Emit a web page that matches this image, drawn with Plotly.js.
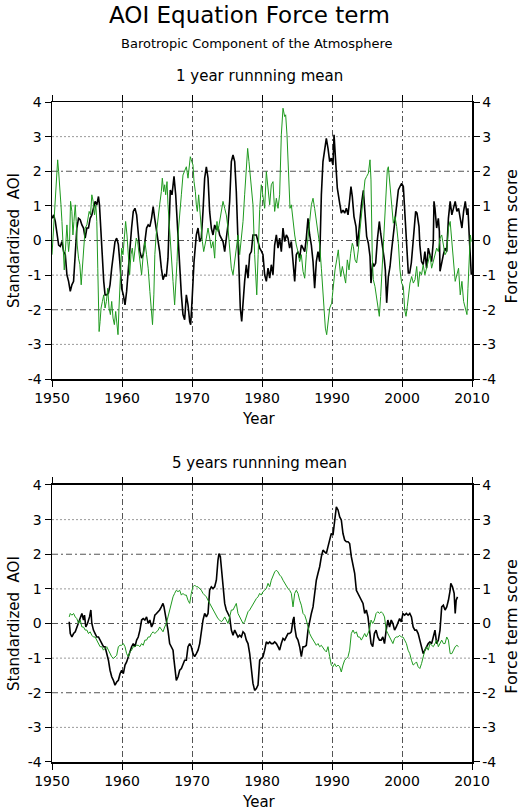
<!DOCTYPE html>
<html>
<head>
<meta charset="utf-8">
<script src="https://cdn.plot.ly/plotly-3.0.1.min.js"></script>
<style>
  html, body { margin: 0; padding: 0; background: #fff; }
  #chart { width: 529px; height: 810px; }
</style>
</head>
<body>
<div id="chart"></div>
<script>
// Axis ticks
const yearTicks = [1950, 1960, 1970, 1980, 1990, 2000, 2010];
const scoreTicks = [-4, -3, -2, -1, 0, 1, 2, 3, 4];
const scoreTickText = ['-4', '-3', '-2', '-1', '0', '1', '2', '3', '4'];

// 1 year running mean: standardized AOI (black)
const aoi1Years = [
  1950.00, 1950.24, 1950.47, 1950.71, 1950.95, 1951.18, 1951.42, 1951.66, 1951.90, 1952.13,
  1952.37, 1952.61, 1952.84, 1953.08, 1953.32, 1953.55, 1953.79, 1954.03, 1954.27, 1954.50,
  1954.74, 1954.98, 1955.21, 1955.45, 1955.69, 1955.92, 1956.16, 1956.40, 1956.64, 1956.78,
  1957.01, 1957.20, 1957.39, 1957.58, 1957.82, 1958.06, 1958.29, 1958.53, 1958.77, 1959.00,
  1959.24, 1959.48, 1959.72, 1959.95, 1960.19, 1960.43, 1960.66, 1960.90, 1961.14, 1961.37,
  1961.61, 1961.85, 1962.09, 1962.32, 1962.56, 1962.80, 1963.03, 1963.27, 1963.51, 1963.74,
  1963.98, 1964.22, 1964.45, 1964.67, 1964.90, 1965.14, 1965.38, 1965.62, 1965.86, 1966.10,
  1966.33, 1966.57, 1966.81, 1966.90, 1967.14, 1967.43, 1967.67, 1967.86, 1968.05, 1968.24,
  1968.48, 1968.71, 1968.95, 1969.19, 1969.43, 1969.67, 1969.81, 1970.00, 1970.29, 1970.62,
  1970.86, 1971.10, 1971.33, 1971.57, 1971.81, 1972.05, 1972.29, 1972.52, 1972.76, 1973.00,
  1973.24, 1973.48, 1973.71, 1973.95, 1974.19, 1974.43, 1974.67, 1974.90, 1975.14, 1975.38,
  1975.62, 1975.86, 1976.10, 1976.33, 1976.57, 1976.71, 1976.90, 1977.10, 1977.29, 1977.52,
  1977.76, 1978.00, 1978.24, 1978.48, 1978.71, 1978.95, 1979.19, 1979.43, 1979.67, 1979.90,
  1980.14, 1980.38, 1980.62, 1980.86, 1981.10, 1981.33, 1981.57, 1981.81, 1982.05, 1982.29,
  1982.52, 1982.76, 1983.00, 1983.24, 1983.48, 1983.71, 1983.95, 1984.19, 1984.43, 1984.67,
  1984.90, 1985.14, 1985.38, 1985.62, 1985.86, 1986.10, 1986.33, 1986.57, 1986.81, 1987.05,
  1987.29, 1987.52, 1987.76, 1988.00, 1988.24, 1988.48, 1988.71, 1988.95, 1989.19, 1989.43,
  1989.67, 1989.90, 1990.14, 1990.29, 1990.48, 1990.76, 1991.10, 1991.33, 1991.57, 1991.81,
  1992.05, 1992.29, 1992.52, 1992.71, 1992.90, 1993.14, 1993.43, 1993.62, 1993.81, 1994.00,
  1994.24, 1994.48, 1994.71, 1994.95, 1995.19, 1995.43, 1995.57, 1995.81, 1996.00, 1996.24,
  1996.48, 1996.76, 1996.95, 1997.19, 1997.33, 1997.48, 1997.62, 1997.81, 1998.05, 1998.29,
  1998.52, 1998.76, 1999.00, 1999.24, 1999.48, 1999.71, 1999.95, 2000.19, 2000.33, 2000.52,
  2000.71, 2000.90, 2001.10, 2001.33, 2001.57, 2001.81, 2001.95, 2002.14, 2002.43, 2002.55,
  2002.79, 2003.03, 2003.27, 2003.51, 2003.75, 2003.99, 2004.23, 2004.47, 2004.57, 2004.71,
  2004.95, 2005.19, 2005.34, 2005.43, 2005.67, 2005.91, 2006.15, 2006.39, 2006.63, 2006.88,
  2007.12, 2007.36, 2007.60, 2007.84, 2008.08, 2008.32, 2008.56, 2008.80, 2009.04, 2009.28,
  2009.42, 2009.62, 2009.76, 2009.90
];
const aoi1Values = [
  0.64, 0.74, 0.55, 0.16, -0.13, -0.17, -0.03, -0.32, -0.41, -0.99,
  -1.18, -1.47, -1.28, -1.18, -0.51, 0.36, 0.64, 0.60, 0.45, 0.36,
  0.07, 0.36, 0.36, 0.64, 0.74, 0.93, 1.13, 1.03, 1.27, 1.03,
  0.16, -0.61, -1.18, -1.57, -1.57, -1.52, -1.28, -0.80, -0.32, -0.03,
  0.07, -0.12, -0.70, -1.38, -1.57, -1.86, -1.47, -0.80, -0.22, 0.36,
  0.84, 0.93, 0.74, 0.16, -0.32, -0.51, -0.41, -0.03, 0.36, 0.45,
  0.40, 0.64, 0.98, 0.64, 0.36, 0.07, -0.32, -0.80, -1.13, -0.99,
  -1.04, -0.51, 1.32, 1.46, 1.32, 1.85, 1.32, 0.55, -0.22, -0.89,
  -1.57, -2.14, -2.29, -1.57, -1.86, -2.34, -2.43, -1.76, -0.61, 0.16,
  0.36, -0.03, 0.07, 0.84, 1.80, 2.13, 1.80, 0.84, 0.36, 0.16,
  0.45, 0.31, 0.40, 0.16, 0.07, -0.03, -0.32, 0.07, 0.45, 1.13,
  2.28, 2.47, 2.28, 1.41, 0.16, -0.80, -1.95, -2.34, -1.76, -1.18,
  -0.70, -1.09, -0.41, -0.32, 0.16, 0.16, 0.16, -0.03, -0.22, -0.30,
  -0.41, -0.99, -1.18, -0.80, -1.09, -0.70, -0.99, -0.13, 0.16, -0.22,
  0.07, -0.32, 0.36, -0.03, 0.16, 0.07, -0.22, -0.03, -0.61, -1.18,
  -0.41, -0.32, -0.51, -0.13, -0.22, -0.32, 0.07, 0.64, 0.16, -0.13,
  -0.61, -1.38, -0.61, -0.32, -0.61, 1.32, 2.28, 2.57, 2.95, 2.66,
  2.28, 2.38, 2.18, 3.05, 2.28, 1.51, 1.07, 0.79, 0.88, 0.79,
  0.93, 0.74, 1.17, 1.56, 1.27, 0.69, 0.40, -0.17, 0.21, 0.69,
  1.10, 1.45, 0.90, 0.12, -0.08, -0.46, -1.23, -0.65, -0.75, -0.65,
  0.02, 0.55, 0.21, -0.08, -0.27, -0.56, -0.85, -1.80, -1.04, -0.75,
  -0.27, 0.21, 0.69, 1.08, 1.46, 1.56, 1.65, 1.56, 0.98, 0.21,
  -0.56, -0.94, -0.94, -0.65, -0.08, 0.69, 0.84, 0.79, 0.40, -0.13,
  -0.61, -0.70, -0.32, -0.80, -0.22, -0.41, -0.61, -0.03, 1.13, 0.93,
  0.36, 0.64, 0.26, -0.89, -0.61, -0.41, -0.22, -0.32, 0.64, 1.13,
  0.74, 0.93, 1.13, 0.84, 0.93, 0.64, 0.36, 0.84, 1.13, 0.74,
  0.93, 0.07, -0.61, -0.99
];

// 1 year running mean: force term score (green)
const force1Years = [
  1950.00, 1950.24, 1950.47, 1950.71, 1950.81, 1950.95, 1951.04, 1951.18, 1951.28, 1951.42,
  1951.56, 1951.66, 1951.75, 1951.90, 1952.04, 1952.13, 1952.27, 1952.37, 1952.51, 1952.65,
  1952.84, 1952.99, 1953.13, 1953.32, 1953.46, 1953.60, 1953.79, 1953.98, 1954.17, 1954.36,
  1954.55, 1954.74, 1954.98, 1955.12, 1955.31, 1955.50, 1955.69, 1955.88, 1956.07, 1956.26,
  1956.40, 1956.54, 1956.64, 1956.73, 1956.87, 1957.01, 1957.20, 1957.39, 1957.58, 1957.77,
  1957.96, 1958.15, 1958.34, 1958.53, 1958.72, 1958.91, 1959.10, 1959.29, 1959.43, 1959.57,
  1959.76, 1959.95, 1960.14, 1960.33, 1960.52, 1960.71, 1960.90, 1961.09, 1961.28, 1961.47,
  1961.66, 1961.85, 1962.04, 1962.23, 1962.42, 1962.61, 1962.80, 1963.03, 1963.27, 1963.51,
  1963.74, 1963.98, 1964.22, 1964.36, 1964.55, 1964.69, 1964.88, 1965.07, 1965.38, 1965.62,
  1965.76, 1965.95, 1966.10, 1966.24, 1966.43, 1966.57, 1966.71, 1966.90, 1967.05, 1967.29,
  1967.52, 1967.67, 1967.86, 1968.00, 1968.24, 1968.48, 1968.71, 1968.95, 1969.19, 1969.43,
  1969.57, 1969.76, 1969.90, 1970.14, 1970.29, 1970.48, 1970.62, 1970.76, 1970.95, 1971.10,
  1971.33, 1971.48, 1971.67, 1971.81, 1972.05, 1972.29, 1972.52, 1972.76, 1973.00, 1973.24,
  1973.38, 1973.57, 1973.71, 1973.95, 1974.19, 1974.43, 1974.67, 1974.90, 1975.14, 1975.38,
  1975.62, 1975.86, 1976.10, 1976.33, 1976.57, 1976.81, 1977.05, 1977.29, 1977.52, 1977.76,
  1977.95, 1978.14, 1978.33, 1978.52, 1978.71, 1978.95, 1979.10, 1979.25, 1979.45, 1979.67,
  1979.90, 1980.14, 1980.38, 1980.62, 1980.86, 1981.10, 1981.33, 1981.57, 1981.81, 1982.05,
  1982.29, 1982.52, 1982.76, 1983.00, 1983.24, 1983.38, 1983.57, 1983.71, 1983.86, 1984.00,
  1984.19, 1984.43, 1984.67, 1984.90, 1985.14, 1985.38, 1985.62, 1985.86, 1986.10, 1986.33,
  1986.57, 1986.81, 1987.05, 1987.29, 1987.52, 1987.76, 1988.00, 1988.24, 1988.48, 1988.71,
  1988.86, 1989.05, 1989.24, 1989.43, 1989.67, 1989.95, 1990.19, 1990.43, 1990.67, 1990.90,
  1991.05, 1991.24, 1991.48, 1991.71, 1991.95, 1992.19, 1992.43, 1992.67, 1992.90, 1993.05,
  1993.29, 1993.52, 1993.76, 1994.00, 1994.24, 1994.48, 1994.71, 1994.95, 1995.19, 1995.43,
  1995.57, 1995.76, 1995.90, 1996.14, 1996.38, 1996.62, 1996.76, 1996.95, 1997.19, 1997.43,
  1997.67, 1997.90, 1998.05, 1998.29, 1998.52, 1998.76, 1999.00, 1999.24, 1999.48, 1999.71,
  1999.95, 2000.19, 2000.38, 2000.57, 2000.76, 2000.95, 2001.14, 2001.38, 2001.62, 2001.86,
  2002.10, 2002.33, 2002.55, 2002.79, 2003.03, 2003.27, 2003.51, 2003.75, 2003.99, 2004.23,
  2004.47, 2004.71, 2004.95, 2005.19, 2005.43, 2005.67, 2005.91, 2006.15, 2006.39, 2006.63,
  2006.88, 2007.12, 2007.36, 2007.60, 2007.84, 2008.08, 2008.32, 2008.56, 2008.80, 2009.04,
  2009.28, 2009.42, 2009.62, 2009.76, 2009.90
];
const force1Values = [
  -0.41, 0.36, 1.03, 1.70, 2.33, 1.99, 1.61, 1.41, 1.03, 0.55,
  0.07, -0.51, -0.85, -0.32, 0.26, 0.45, -0.03, -0.32, -0.03, 1.13,
  0.84, 0.16, 0.55, 1.03, 0.55, -0.13, -0.51, -0.70, -1.28, -0.70,
  -0.03, 0.36, 0.45, 0.64, 0.84, 0.74, 1.32, 1.13, 0.74, 1.03,
  0.55, -0.80, -1.76, -2.63, -2.34, -1.95, -1.76, -1.57, -1.95, -1.76,
  -1.38, -1.95, -2.14, -1.76, -2.24, -2.43, -2.05, -2.53, -2.72, -1.95,
  -0.99, -0.22, -0.41, 0.07, 0.55, 0.16, -0.51, -0.99, -0.41, -0.22,
  -0.61, -0.32, 0.07, -0.03, -0.41, -0.80, -0.99, -0.41, -0.03, -0.41,
  -0.80, -1.47, -2.24, -2.43, -1.57, -0.41, 0.16, 0.55, 1.03, 1.41,
  1.80, 1.41, 1.61, 1.32, 1.70, 1.03, 0.55, -0.13, -0.61, -1.18,
  -1.86, -1.38, -0.61, 0.16, 0.64, 1.32, 1.89, 1.99, 2.13, 1.80,
  2.09, 2.42, 2.33, 2.18, 1.70, 1.41, 1.03, 0.84, 1.32, 0.93,
  0.26, -0.03, -0.32, -0.13, 0.07, 0.36, 0.07, -0.22, -0.03, -0.51,
  0.16, 0.55, 0.26, 0.55, 0.74, 1.13, 0.93, 0.74, 0.36, -0.13,
  -0.80, -0.99, -0.61, -0.22, 0.16, -0.41, 0.07, 0.55, 1.32, 2.28,
  2.66, 2.28, 1.89, 1.32, 1.03, -0.41, -0.99, -1.57, -0.40, 0.90,
  1.61, 1.32, 0.93, 1.99, 1.41, 1.03, 1.61, 1.70, 0.84, 1.22,
  0.93, 1.32, 3.05, 3.82, 3.58, 3.63, 3.05, 2.28, 1.32, 0.93,
  1.03, 0.55, 0.16, -0.13, -0.32, -0.61, -0.41, -0.89, -1.09, -0.41,
  0.16, 0.55, 1.03, 1.22, 0.93, 0.55, 0.16, -0.13, -0.80, -1.57,
  -2.05, -2.53, -2.72, -2.34, -1.95, -1.81, -1.23, -0.85, -0.56, -0.27,
  -0.65, -1.04, -0.75, -1.04, -1.23, -0.56, -0.85, -0.37, -0.08, -0.17,
  -0.56, -0.65, -0.27, 0.31, 0.88, 1.37, 1.75, 1.85, 1.94, 2.33,
  1.75, -0.56, -1.13, -1.33, -1.62, -1.90, -2.19, -1.62, -0.75, 0.21,
  1.17, 2.04, 2.13, 1.65, 1.17, 0.50, 0.69, 0.40, -0.08, -0.85,
  -1.23, -1.33, -2.00, -2.19, -1.90, -1.52, -1.23, -1.04, -1.23, -1.13,
  -0.75, -1.33, -0.90, -0.99, -0.70, -0.99, -0.80, -0.61, -0.41, -0.80,
  -0.61, -0.41, -0.22, -0.32, 0.07, 0.16, -0.13, -0.41, -0.32, 0.36,
  0.55, -0.03, -0.61, -1.18, -0.99, -0.80, -1.57, -1.18, -1.76, -1.95,
  -2.14, -1.38, -0.41, 0.16, -0.03
];

// 5 years running mean: standardized AOI (black)
const aoi5Years = [
  1952.46, 1952.61, 1952.84, 1953.08, 1953.32, 1953.55, 1953.79, 1954.03, 1954.27, 1954.50,
  1954.64, 1954.83, 1955.07, 1955.36, 1955.55, 1955.69, 1955.92, 1956.16, 1956.40, 1956.64,
  1956.87, 1957.11, 1957.35, 1957.58, 1957.82, 1958.06, 1958.29, 1958.53, 1958.77, 1959.00,
  1959.24, 1959.48, 1959.72, 1959.95, 1960.19, 1960.43, 1960.66, 1960.90, 1961.14, 1961.37,
  1961.61, 1961.85, 1962.09, 1962.32, 1962.56, 1962.80, 1963.03, 1963.27, 1963.51, 1963.74,
  1963.98, 1964.22, 1964.45, 1964.69, 1964.93, 1965.17, 1965.38, 1965.62, 1965.86, 1966.00,
  1966.19, 1966.33, 1966.57, 1966.81, 1967.05, 1967.29, 1967.43, 1967.62, 1967.76, 1968.00,
  1968.24, 1968.48, 1968.71, 1968.95, 1969.19, 1969.43, 1969.67, 1969.90, 1970.14, 1970.38,
  1970.62, 1970.86, 1971.10, 1971.33, 1971.57, 1971.81, 1972.05, 1972.29, 1972.52, 1972.76,
  1973.00, 1973.24, 1973.48, 1973.71, 1973.86, 1974.05, 1974.19, 1974.43, 1974.67, 1974.90,
  1975.14, 1975.38, 1975.62, 1975.86, 1976.10, 1976.33, 1976.57, 1976.81, 1977.05, 1977.29,
  1977.52, 1977.76, 1978.00, 1978.24, 1978.48, 1978.71, 1978.95, 1979.19, 1979.43, 1979.67,
  1979.90, 1980.14, 1980.38, 1980.62, 1980.86, 1981.10, 1981.33, 1981.57, 1981.81, 1982.05,
  1982.29, 1982.52, 1982.76, 1983.00, 1983.24, 1983.48, 1983.71, 1983.95, 1984.19, 1984.43,
  1984.57, 1984.67, 1984.90, 1985.14, 1985.38, 1985.62, 1985.86, 1986.10, 1986.33, 1986.57,
  1986.81, 1987.05, 1987.29, 1987.52, 1987.76, 1988.00, 1988.24, 1988.48, 1988.71, 1988.95,
  1989.19, 1989.43, 1989.67, 1989.90, 1990.14, 1990.38, 1990.62, 1990.86, 1991.10, 1991.33,
  1991.57, 1991.81, 1992.05, 1992.29, 1992.52, 1992.76, 1993.00, 1993.24, 1993.48, 1993.71,
  1993.95, 1994.19, 1994.43, 1994.67, 1994.90, 1995.14, 1995.34, 1995.58, 1995.82, 1996.06,
  1996.30, 1996.54, 1996.78, 1997.02, 1997.26, 1997.50, 1997.74, 1997.98, 1998.22, 1998.46,
  1998.70, 1998.94, 1999.18, 1999.42, 1999.66, 1999.90, 2000.14, 2000.38, 2000.63, 2000.87,
  2001.11, 2001.35, 2001.59, 2001.83, 2002.07, 2002.31, 2002.55, 2002.79, 2003.03, 2003.27,
  2003.51, 2003.75, 2003.99, 2004.23, 2004.47, 2004.71, 2004.95, 2005.19, 2005.43, 2005.67,
  2005.91, 2006.15, 2006.39, 2006.63, 2006.88, 2006.97, 2007.21, 2007.45, 2007.60, 2007.74,
  2007.93
];
const aoi5Values = [
  0.05, -0.29, -0.39, -0.29, -0.24, -0.10, 0.00, 0.19, 0.29, 0.10,
  0.24, -0.10, 0.00, 0.19, 0.39, 0.00, -0.19, -0.29, -0.39, -0.39,
  -0.48, -0.58, -0.67, -0.67, -0.87, -1.06, -1.35, -1.54, -1.64, -1.78,
  -1.69, -1.64, -1.45, -1.35, -1.45, -1.20, -1.11, -0.96, -0.77, -0.67,
  -0.58, -0.67, -0.48, -0.39, -0.19, 0.10, 0.14, 0.10, 0.19, 0.00,
  0.10, -0.10, 0.00, 0.24, 0.29, 0.34, 0.39, 0.48, 0.58, 0.48,
  0.29, 0.10, -0.19, -0.58, -0.67, -0.77, -1.06, -1.45, -1.64, -1.54,
  -1.35, -1.30, -1.16, -1.06, -1.06, -0.67, -0.58, -0.67, -0.87, -0.96,
  -0.87, -0.77, -0.58, -0.19, 0.10, 0.29, 0.19, 0.29, 0.96, 1.06,
  1.01, 1.06, 1.25, 1.83, 2.02, 1.93, 1.64, 0.96, 0.58, 0.39,
  0.29, 0.19, -0.19, -0.34, -0.19, -0.29, -0.39, -0.34, -0.39, -0.24,
  -0.29, -0.48, -0.58, -0.87, -1.25, -1.73, -1.93, -1.88, -1.78, -1.06,
  -1.01, -0.96, -0.77, -0.53, -0.58, -0.53, -0.58, -0.58, -0.53, -0.58,
  -0.67, -0.77, -0.58, -0.43, -0.48, -0.39, -0.29, -0.29, -0.24, 0.10,
  0.19, -0.10, -0.39, -0.48, -0.67, -0.96, -0.67, -0.67, -0.63, -0.19,
  0.10, 0.29, 0.48, 0.96, 1.25, 1.45, 1.64, 1.93, 2.12, 2.07,
  2.02, 2.22, 2.46, 2.60, 2.55, 2.99, 3.37, 3.28, 3.08, 2.99,
  2.60, 2.41, 2.36, 2.36, 2.31, 1.93, 1.64, 1.45, 0.96, 0.87,
  0.77, 0.72, 0.58, 0.29, 0.39, 0.19, -0.10, -0.58, -0.67, -0.29,
  -0.19, -0.39, -0.48, -0.48, -0.39, -0.58, -0.19, 0.10, -0.10, 0.10,
  0.00, -0.19, -0.10, 0.00, 0.14, 0.05, 0.29, 0.24, 0.29, 0.24,
  0.29, 0.19, -0.10, -0.19, -0.19, -0.29, -0.48, -0.67, -0.87, -0.77,
  -0.67, -0.58, -0.53, -0.58, -0.39, -0.19, -0.58, -0.48, -0.19, 0.48,
  0.53, 0.39, 0.48, 0.67, 0.96, 1.16, 1.06, 0.87, 0.29, 0.67,
  0.77
];

// 5 years running mean: force term score (green)
const force5Years = [
  1952.46, 1952.61, 1952.84, 1953.08, 1953.32, 1953.55, 1953.79, 1954.03, 1954.27, 1954.50,
  1954.74, 1954.98, 1955.21, 1955.45, 1955.69, 1955.92, 1956.16, 1956.40, 1956.64, 1956.87,
  1957.11, 1957.35, 1957.58, 1957.82, 1958.06, 1958.29, 1958.53, 1958.77, 1959.00, 1959.24,
  1959.48, 1959.72, 1959.95, 1960.19, 1960.43, 1960.66, 1960.90, 1961.14, 1961.37, 1961.61,
  1961.85, 1962.09, 1962.32, 1962.56, 1962.80, 1963.03, 1963.27, 1963.51, 1963.74, 1963.98,
  1964.22, 1964.45, 1964.69, 1964.93, 1965.17, 1965.38, 1965.62, 1965.86, 1966.10, 1966.33,
  1966.57, 1966.81, 1967.05, 1967.29, 1967.52, 1967.76, 1968.00, 1968.24, 1968.48, 1968.71,
  1968.95, 1969.19, 1969.43, 1969.67, 1969.90, 1970.14, 1970.38, 1970.62, 1970.86, 1971.10,
  1971.33, 1971.57, 1971.81, 1972.05, 1972.29, 1972.52, 1972.76, 1973.00, 1973.24, 1973.48,
  1973.71, 1973.95, 1974.19, 1974.43, 1974.67, 1974.90, 1975.14, 1975.38, 1975.62, 1975.86,
  1976.10, 1976.33, 1976.57, 1976.81, 1977.05, 1977.29, 1977.52, 1977.76, 1978.00, 1978.24,
  1978.48, 1978.71, 1978.95, 1979.19, 1979.43, 1979.67, 1979.90, 1980.14, 1980.38, 1980.62,
  1980.86, 1981.10, 1981.33, 1981.57, 1981.81, 1982.05, 1982.29, 1982.52, 1982.76, 1983.00,
  1983.24, 1983.48, 1983.71, 1983.95, 1984.19, 1984.43, 1984.67, 1984.90, 1985.14, 1985.38,
  1985.62, 1985.86, 1986.10, 1986.33, 1986.57, 1986.81, 1987.05, 1987.29, 1987.52, 1987.76,
  1988.00, 1988.24, 1988.48, 1988.71, 1988.95, 1989.19, 1989.43, 1989.67, 1989.90, 1990.14,
  1990.38, 1990.62, 1990.86, 1991.10, 1991.33, 1991.57, 1991.81, 1992.05, 1992.29, 1992.52,
  1992.76, 1993.00, 1993.24, 1993.48, 1993.71, 1993.95, 1994.19, 1994.43, 1994.67, 1994.90,
  1995.14, 1995.34, 1995.58, 1995.82, 1996.06, 1996.30, 1996.54, 1996.78, 1997.02, 1997.26,
  1997.50, 1997.74, 1997.98, 1998.22, 1998.46, 1998.70, 1998.94, 1999.18, 1999.42, 1999.66,
  1999.90, 2000.14, 2000.38, 2000.63, 2000.87, 2001.11, 2001.35, 2001.59, 2001.83, 2002.07,
  2002.31, 2002.55, 2002.79, 2003.03, 2003.27, 2003.51, 2003.75, 2003.99, 2004.23, 2004.47,
  2004.71, 2004.95, 2005.19, 2005.43, 2005.67, 2005.91, 2006.15, 2006.39, 2006.63, 2006.88,
  2007.12, 2007.36, 2007.60, 2007.84, 2008.08
];
const force5Values = [
  0.19, 0.29, 0.24, 0.29, 0.19, 0.14, 0.00, 0.10, -0.10, -0.10,
  -0.19, -0.19, -0.29, -0.24, -0.34, -0.39, -0.39, -0.48, -0.58, -0.67,
  -0.67, -0.77, -0.72, -0.67, -0.77, -0.87, -0.96, -1.01, -0.96, -0.92,
  -0.67, -0.63, -0.63, -0.58, -0.67, -0.87, -0.96, -0.82, -0.77, -0.67,
  -0.67, -0.63, -0.63, -0.67, -0.58, -0.63, -0.48, -0.48, -0.39, -0.39,
  -0.29, -0.24, -0.29, -0.24, -0.19, -0.10, -0.19, -0.24, -0.10, 0.00,
  0.19, 0.39, 0.58, 0.77, 0.87, 0.96, 0.92, 0.96, 0.82, 0.87,
  0.82, 0.82, 0.67, 0.58, 0.87, 1.06, 1.11, 1.06, 1.06, 1.01,
  0.96, 0.87, 0.82, 0.77, 0.67, 0.58, 0.48, 0.39, 0.29, 0.19,
  0.14, 0.10, 0.05, 0.10, 0.19, 0.10, 0.00, 0.19, 0.39, 0.39,
  0.48, 0.58, 0.29, 0.19, 0.10, 0.00, 0.05, 0.19, 0.34, 0.39,
  0.48, 0.58, 0.63, 0.72, 0.77, 0.87, 0.82, 0.92, 0.96, 1.01,
  1.16, 1.06, 1.25, 1.40, 1.49, 1.54, 1.49, 1.40, 1.35, 1.25,
  1.16, 1.11, 1.01, 0.96, 0.87, 0.48, 0.87, 0.96, 0.87, 0.67,
  0.53, 0.29, 0.24, 0.10, -0.10, -0.29, -0.39, -0.48, -0.58, -0.63,
  -0.58, -0.67, -0.63, -0.72, -0.77, -0.82, -0.67, -0.96, -1.20, -1.25,
  -1.16, -1.25, -1.20, -1.25, -1.40, -1.20, -1.06, -1.01, -0.96, -0.77,
  -0.29, -0.19, -0.29, -0.24, -0.39, -0.39, -0.48, -0.39, -0.29, -0.39,
  -0.29, -0.19, 0.10, 0.00, 0.10, 0.29, 0.34, 0.29, 0.34, 0.29,
  0.19, -0.19, -0.29, -0.39, -0.48, -0.58, -0.43, -0.39, -0.39, -0.34,
  -0.39, -0.39, -0.48, -0.58, -0.77, -0.87, -1.06, -1.20, -1.16, -1.11,
  -1.25, -1.30, -1.16, -0.96, -0.77, -0.67, -0.77, -0.58, -0.63, -0.67,
  -0.58, -0.48, -0.67, -0.58, -0.48, -0.58, -0.58, -0.39, -0.48, -0.87,
  -0.87, -0.77, -0.67, -0.63, -0.67
];

// Horizontal reference lines inside each panel
const dottedLevels = [-3, -1, 1, 3];
const dashLevels = [-2, 0, 2];

const FONT = 'DejaVu Sans, sans-serif';
const aoiColor = '#000000';
const forceColor = '#1f9a1f';

const traces = [
  { x: aoi1Years, y: aoi1Values, xaxis: 'x', yaxis: 'y', mode: 'lines',
    line: { color: aoiColor, width: 1.6 }, name: 'Standardized AOI' },
  { x: force1Years, y: force1Values, xaxis: 'x', yaxis: 'y2', mode: 'lines',
    line: { color: forceColor, width: 1 }, name: 'Force term score' },
  { x: aoi5Years, y: aoi5Values, xaxis: 'x2', yaxis: 'y3', mode: 'lines',
    line: { color: aoiColor, width: 1.6 }, name: 'Standardized AOI' },
  { x: force5Years, y: force5Values, xaxis: 'x2', yaxis: 'y4', mode: 'lines',
    line: { color: forceColor, width: 1 }, name: 'Force term score' }
];

function xAxis(anchor) {
  return {
    anchor: anchor, range: [1950, 2010], tickvals: yearTicks,
    ticks: 'outside', ticklen: 6, tickwidth: 1, tickcolor: '#000',
    showline: true, linewidth: 1.5, linecolor: '#000', mirror: 'ticks',
    showgrid: true, gridcolor: '#555', gridwidth: 1, griddash: '6px,3px,2px,3px',
    zeroline: false, tickfont: { family: FONT, size: 14, color: '#000' }
  };
}
function yAxis(domain, anchor) {
  return {
    domain: domain, anchor: anchor, range: [-4, 4],
    tickvals: scoreTicks, ticktext: scoreTickText,
    ticks: 'outside', ticklen: 6, tickwidth: 1, tickcolor: '#000',
    showline: true, linewidth: 1.5, linecolor: '#000',
    showgrid: false, zeroline: false,
    tickfont: { family: FONT, size: 14, color: '#000' }
  };
}
function yAxisRight(over, anchor) {
  return {
    overlaying: over, anchor: anchor, side: 'right', range: [-4, 4],
    tickvals: scoreTicks, ticktext: scoreTickText,
    ticks: 'outside', ticklen: 6, tickwidth: 1, tickcolor: '#000',
    showline: true, linewidth: 1.5, linecolor: '#000',
    showgrid: false, zeroline: false,
    tickfont: { family: FONT, size: 14, color: '#000' }
  };
}

const shapes = [];
[['x', 'y'], ['x2', 'y3']].forEach(([xa, ya]) => {
  dottedLevels.forEach(v => shapes.push({
    type: 'line', xref: xa + ' domain', yref: ya, x0: 0, x1: 1, y0: v, y1: v,
    layer: 'below', line: { color: '#9a9a9a', width: 1, dash: '2px,2px' }
  }));
  dashLevels.forEach(v => shapes.push({
    type: 'line', xref: xa + ' domain', yref: ya, x0: 0, x1: 1, y0: v, y1: v,
    layer: 'below', line: { color: '#555', width: 1, dash: '6px,3px,2px,3px' }
  }));
});

function note(text, x, y, size, angle) {
  return {
    text: text, xref: 'paper', yref: 'paper', x: x, y: y,
    xanchor: 'center', yanchor: 'middle', showarrow: false,
    textangle: angle || 0, font: { family: FONT, size: size, color: '#000' }
  };
}

const annotations = [
  note('AOI Equation Force term', 0.471, 1.1318, 23),
  note('Barotropic Component of the Atmosphere', 0.489, 1.0886, 13),
  note('1 year runnning mean', 0.494, 1.0394, 15),
  note('Year', 0.494, 0.5197, 15),
  note('Standardized  AOI', -0.0905, 0.791, 15, -90),
  note('Force term score', 1.0952, 0.7962, 16, -90),
  note('5 years runnning mean', 0.494, 0.4523, 15),
  note('Year', 0.494, -0.0606, 15),
  note('Standardized  AOI', -0.0905, 0.2106, 15, -90),
  note('Force term score', 1.0952, 0.2050, 16, -90)
];

const layout = {
  width: 529, height: 810,
  margin: { l: 52, r: 57, t: 102, b: 48 },
  paper_bgcolor: '#fff', plot_bgcolor: '#fff',
  showlegend: false,
  font: { family: FONT, size: 14, color: '#000' },
  xaxis: xAxis('y'),
  yaxis: yAxis([0.5803, 1], 'x'),
  yaxis2: yAxisRight('y', 'x'),
  xaxis2: xAxis('y3'),
  yaxis3: yAxis([0, 0.4197], 'x2'),
  yaxis4: yAxisRight('y3', 'x2'),
  shapes: shapes,
  annotations: annotations
};

Plotly.newPlot('chart', traces, layout, { staticPlot: true, displayModeBar: false });
</script>
</body>
</html>
